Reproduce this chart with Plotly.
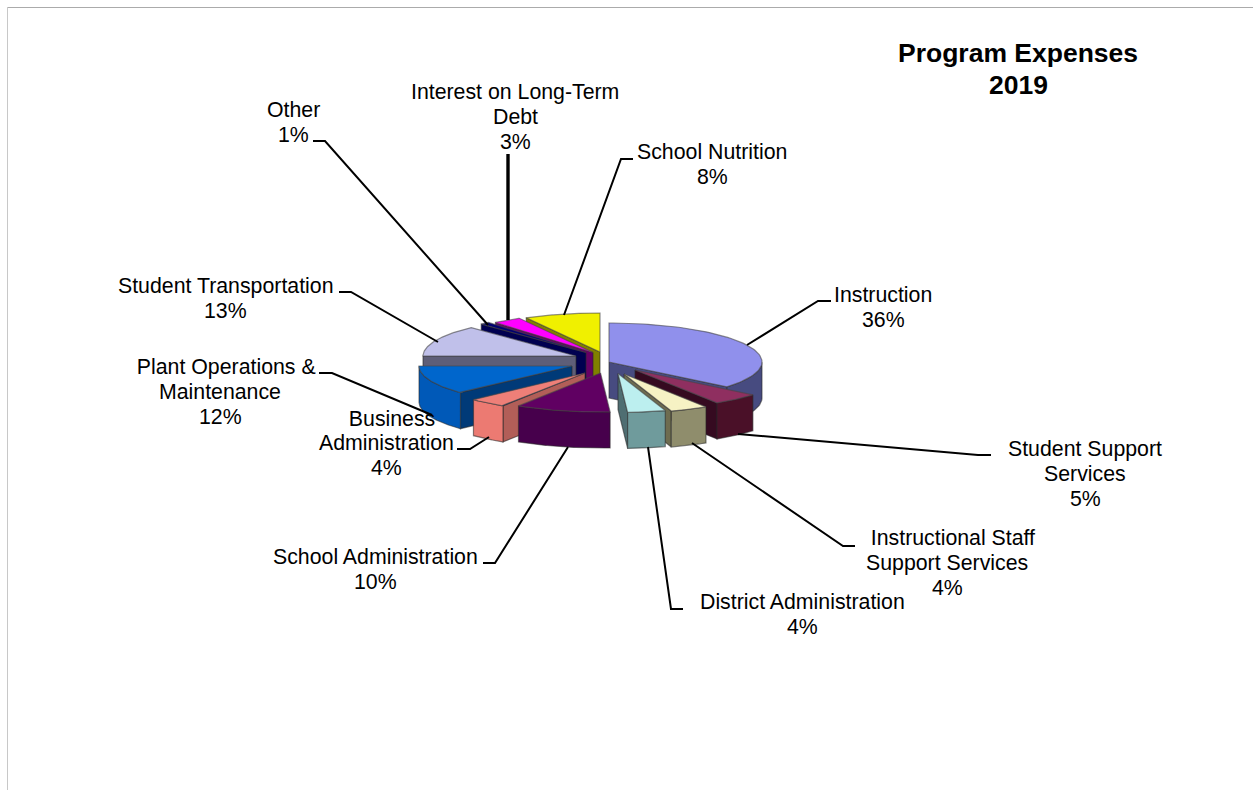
import numpy as np
import plotly.graph_objects as go

# Share of program expenses, clockwise from twelve o'clock
categories = ["Instruction", "Student Support Services", "Instructional Staff Support Services",
              "District Administration", "School Administration", "Business Administration",
              "Plant Operations & Maintenance", "Student Transportation", "Other",
              "Interest on Long-Term Debt", "School Nutrition"]
values = [36, 5, 4, 4, 10, 4, 12, 13, 1, 3, 8]

# Label wording, one entry per text line
label_lines = [["Instruction"], ["Student Support", "Services"], ["\u00a0\u00a0Instructional Staff", "Support Services"],
               ["District Administration"], ["School Administration"], ["\u00a0\u00a0Business", "Administration"],
               ["\u00a0\u00a0Plant Operations &", "Maintenance"], ["Student Transportation"], ["Other"],
               ["Interest on Long-Term", "Debt"], ["School Nutrition"]]
label_x = [883, 1085, 947, 802, 375, 386, 220, 225, 293, 515, 712]
label_first_y = [295, 449, 538, 602, 557, 418.5, 367, 286, 110, 92, 152]
label_step = 24.9

title_lines = ["Program Expenses", "2019"]

# Face colours per slice
top_colors = ["#9090EC", "#8F2F60", "#F6F2C4", "#BCEFEF", "#600062", "#EE7F78",
              "#0066CC", "#C0C0EA", "#000070", "#FF00FF", "#F0F000"]
rim_colors = ["#474B80", "#4A1028", "#8F8D6C", "#6F9B9C", "#47004C", "#EC7A72",
              "#0059B8", "#606080", "#000050", "#660066", "#808000"]
cut_colors = ["#474B80", "#350A20", "#6E6C50", "#4F6E72", "#47004C", "#B25E58",
              "#003A78", "#5E5E78", "#000050", "#660066", "#808000"]

# Pie projection
center_x, center_y = 600, 362
radius_x, radius_y, depth = 153, 39, 36
explode_x = [9, 35, 24, 18, 0.5, -15, -28, -24, -14, -7, 0]
explode_y = [0, 8, 12, 11.5, 11, 11, 4, -6, -9.5, -9.5, -10]
paint_order = [10, 9, 8, 7, 0, 6, 1, 2, 5, 4, 3]

# Leader lines: one list of x and one of y per slice
leader_x = [[831, 818, 747], [991, 978, 738], [855, 843, 692], [683, 671, 648], [483, 495, 568],
            [457, 470, 489], [319, 332, 432], [339, 351, 438], [313, 325, 488], [508, 508], [633, 621, 564]]
leader_y = [[301, 301, 345], [455, 455, 434], [546, 546, 443], [609, 609, 447], [563, 563, 447],
            [449, 449, 437], [373, 373, 415], [292, 292, 342], [141, 141, 325], [154, 320], [159, 159, 315]]
leader_width = [2, 2, 2, 2, 2, 2, 2, 2, 2, 3.4, 2]

fig = go.Figure()


def add_face(xs, ys, fill, edge):
    fig.add_trace(go.Scatter(x=list(xs), y=list(ys), mode="lines", fill="toself", fillcolor=fill,
                             line=dict(color=edge, width=1.2), hoverinfo="skip", showlegend=False))


edges = np.radians(np.cumsum([0] + values) * 3.6)
for i in paint_order:
    a0, a1 = edges[i], edges[i + 1]
    tip_x, tip_y = center_x + explode_x[i], center_y + explode_y[i]
    arc = np.linspace(a0, a1, 80)
    arc_x = tip_x + radius_x * np.sin(arc)
    arc_y = tip_y - radius_y * np.cos(arc)

    # Radial cut faces, drawn only where they turn toward the viewer
    for ang, facing in ((a0, np.sin(a0) < -1e-6), (a1, np.sin(a1) > 1e-6)):
        if facing:
            px = tip_x + radius_x * np.sin(ang)
            py = tip_y - radius_y * np.cos(ang)
            add_face([tip_x, px, px, tip_x, tip_x], [tip_y, py, py + depth, tip_y + depth, tip_y],
                     cut_colors[i], "rgba(40,40,40,0.55)")

    # Outer wall across the front half of the ellipse
    front = (arc > np.pi / 2) & (arc < 3 * np.pi / 2)
    if front.any():
        fx, fy = arc_x[front], arc_y[front]
        add_face(np.r_[fx, fx[::-1], fx[0]], np.r_[fy, fy[::-1] + depth, fy[0]],
                 rim_colors[i], "rgba(40,40,40,0.55)")

    # Top face
    add_face(np.r_[tip_x, arc_x, tip_x], np.r_[tip_y, arc_y, tip_y], top_colors[i], "rgba(70,70,70,0.6)")

for xs, ys, w in zip(leader_x, leader_y, leader_width):
    fig.add_trace(go.Scatter(x=xs, y=ys, mode="lines", line=dict(color="black", width=w),
                             hoverinfo="skip", showlegend=False))

for lines, val, x, y0 in zip(label_lines, values, label_x, label_first_y):
    for k, line in enumerate(lines + [f"{val}%"]):
        fig.add_annotation(x=x, y=y0 + k * label_step, text=line, showarrow=False, xanchor="center",
                           yanchor="middle", font=dict(family="Liberation Sans, Arial", size=21.3, color="black"))

for k, line in enumerate(title_lines):
    fig.add_annotation(x=1018, y=53 + k * 32, text=f"<b>{line}</b>", showarrow=False, xanchor="center",
                       yanchor="middle", font=dict(family="Liberation Sans, Arial", size=26.5, color="black"))

# Frame along the top and left edges
fig.add_shape(type="line", x0=7, x1=1253, y0=7.5, y1=7.5, line=dict(color="#ABABAB", width=1))
fig.add_shape(type="line", x0=7.5, x1=7.5, y0=7, y1=790, line=dict(color="#C8C8C8", width=1))

fig.update_xaxes(visible=False, range=[0, 1253], fixedrange=True)
fig.update_yaxes(visible=False, range=[790, 0], fixedrange=True)
fig.update_layout(width=1253, height=790, margin=dict(l=0, r=0, t=0, b=0),
                  paper_bgcolor="white", plot_bgcolor="white", showlegend=False)
fig.write_html("out.html")
